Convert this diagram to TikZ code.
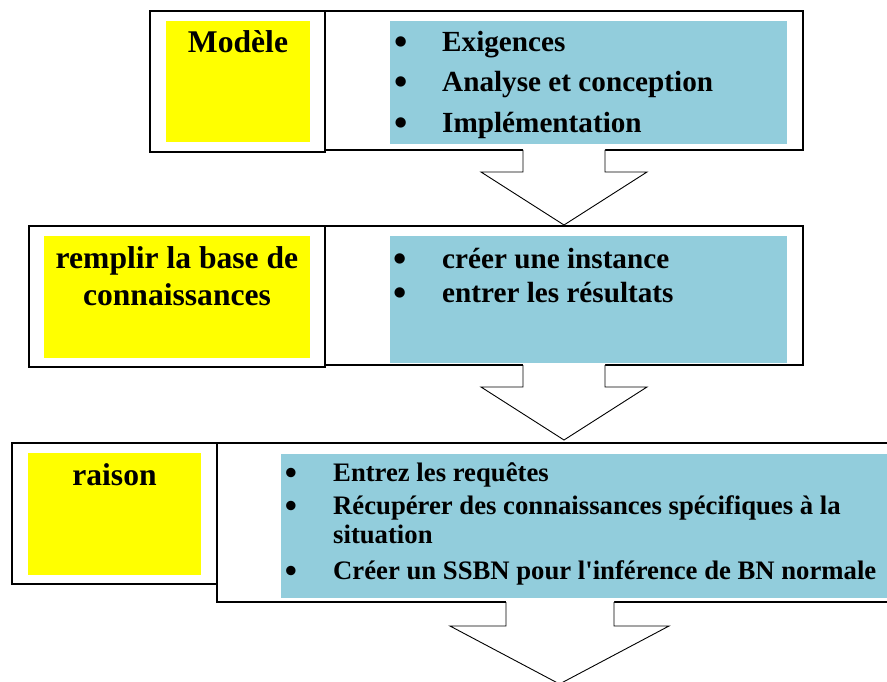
\documentclass[tikz,border=0pt]{standalone}
\usepackage{graphicx}
\usepackage{fontspec}
\setmainfont{Liberation Serif}
\newfontfamily\nomapserif{Liberation Serif}
\definecolor{lblyellow}{HTML}{FFFF00}
\definecolor{lblue}{HTML}{92CDDC}
\newcommand{\bigbul}{\scalebox{1.3}{•}}
\tikzset{
  frame/.style={draw=black, line width=1.2pt},
  yfill/.style={fill=lblyellow},
  bfill/.style={fill=lblue},
  lbltext/.style={font=\fontsize{31.6}{36}\selectfont\bfseries, anchor=base, inner sep=0pt},
  itemA/.style={font=\fontsize{29.2}{34}\selectfont\bfseries, anchor=base west, inner sep=0pt},
  itemB/.style={font=\fontsize{26.7}{31}\selectfont\bfseries, anchor=base west, inner sep=0pt},
  bulA/.style={font=\fontsize{29.2}{34}\selectfont\bfseries, anchor=base, inner sep=0pt, yshift=-3pt},
  bulB/.style={font=\fontsize{26.7}{31}\selectfont\bfseries, anchor=base, inner sep=0pt, yshift=-3pt},
  arrowline/.style={draw=black, line width=0.9pt, line join=miter},
}
\begin{document}
\begin{tikzpicture}[x=1pt,y=-1pt]
\useasboundingbox (0,0) rectangle (887,682);
\clip (0,0) rectangle (887,682);
% ---------- block 1
\fill[yfill] (166,21) rectangle (310,142);
\fill[bfill] (390,21) rectangle (787,144);
\draw[frame] (150,11) rectangle (325,152);
\draw[frame] (325,11) rectangle (803,150);
% ---------- block 2
\fill[yfill] (44,236) rectangle (310,358);
\fill[bfill] (390,236) rectangle (787,363);
\draw[frame] (29,226) rectangle (325,367);
\draw[frame] (325,226) rectangle (803,365);
% ---------- block 3
\fill[yfill] (28,453) rectangle (201,575);
\fill[bfill] (281,454) rectangle (890,598);
\draw[frame] (12,443) rectangle (217,584);
\draw[frame] (217,443) rectangle (895,602);
% ---------- arrows
\coordinate (a1tip) at (564,225);
\fill[white] (523,149) -- (523,172) -- (481,172) -- (a1tip) -- (647,172) -- (605,172) -- (605,149) -- cycle;
\draw[arrowline] (523,150) -- (523,172) -- (481,172) -- (a1tip) -- (647,172) -- (605,172) -- (605,150);
\coordinate (a2tip) at (564,440);
\fill[white] (523,364) -- (523,387) -- (481,387) -- (a2tip) -- (647,387) -- (605,387) -- (605,364) -- cycle;
\draw[arrowline] (523,365) -- (523,387) -- (481,387) -- (a2tip) -- (647,387) -- (605,387) -- (605,365);
\coordinate (a3tip) at (559.5,684);
\fill[white] (506,601) -- (506,626) -- (450,626) -- (a3tip) -- (669,626) -- (614,626) -- (614,601) -- cycle;
\draw[arrowline] (506,602) -- (506,626) -- (450,626) -- (a3tip) -- (669,626) -- (614,626) -- (614,602);
% ---------- labels
\node[lbltext] (l1) at (238,53) {Modèle};
\node[lbltext] (l2a) at (177,268) {remplir la base de};
\node[lbltext] (l2b) at (177,305) {connaissances};
\node[lbltext] (l3) at (114.5,485) {raison};
% ---------- list 1
\node[bulA] (b11) at (401,52) {\bigbul};
\node[itemA] (t11) at (442,52) {Exigences};
\node[bulA] (b12) at (401,92) {\bigbul};
\node[itemA] (t12) at (442,92) {Analyse et conception};
\node[bulA] (b13) at (401,133) {\bigbul};
\node[itemA] (t13) at (442,133) {Implémentation};
% ---------- list 2
\node[bulA] (b21) at (400,268) {\bigbul};
\node[itemA] (t21) at (442,268) {créer une instance};
\node[bulA] (b22) at (400,302) {\bigbul};
\node[itemA] (t22) at (442,302) {entrer les résultats};
% ---------- list 3
\node[bulB] (b31) at (291,481) {\bigbul};
\node[itemB] (t31) at (333,481) {Entrez les requêtes};
\node[bulB] (b32) at (291,514) {\bigbul};
\node[itemB] (t32) at (333,514) {Récupérer des connaissances spécifiques à la};
\node[itemB] (t32b) at (333,543) {situation};
\node[bulB] (b33) at (291,579) {\bigbul};
\node[itemB] (t33) at (333,579) {Créer un SSBN pour l{\nomapserif\bfseries '}inférence de BN normale};
\end{tikzpicture}
\end{document}
